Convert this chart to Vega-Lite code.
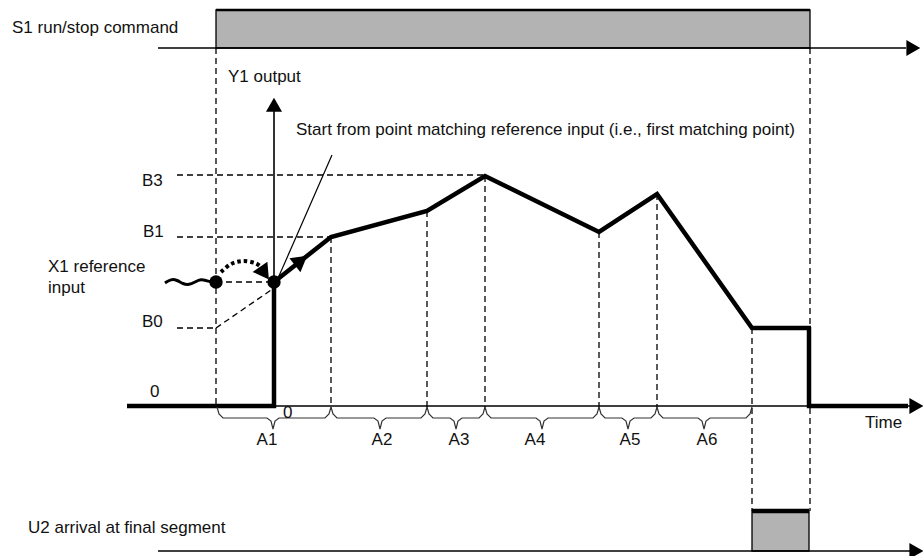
{
  "$schema": "https://vega.github.io/schema/vega-lite/v6.json",
  "width": 923,
  "height": 556,
  "autosize": {"type": "none"},
  "padding": 0,
  "background": "white",
  "config": {"view": {"stroke": null}},
  "encoding": {
    "x": {"field": "x", "type": "quantitative", "scale": {"domain": [0, 923], "nice": false, "zero": false}, "axis": null},
    "y": {"field": "y", "type": "quantitative", "scale": {"domain": [0, 556], "nice": false, "zero": false, "reverse": true}, "axis": null}
  },
  "layer": [
    {
      "data": {"values": [
        {"x": 216, "x2": 810, "y": 10, "y2": 48},
        {"x": 752, "x2": 809, "y": 511, "y2": 551}
      ]},
      "mark": {"type": "rect", "fill": "#b3b3b3", "stroke": "#000", "strokeWidth": 1.3},
      "encoding": {"x2": {"field": "x2"}, "y2": {"field": "y2"}}
    },
    {
      "data": {"values": [
        {"x": 216, "y": 48, "x2": 216, "y2": 407},
        {"x": 810, "y": 48, "x2": 810, "y2": 511},
        {"x": 331, "y": 237, "x2": 331, "y2": 407},
        {"x": 427, "y": 211, "x2": 427, "y2": 407},
        {"x": 485, "y": 176, "x2": 485, "y2": 407},
        {"x": 599, "y": 232, "x2": 599, "y2": 407},
        {"x": 657, "y": 194, "x2": 657, "y2": 407},
        {"x": 752, "y": 328, "x2": 752, "y2": 511},
        {"x": 177, "y": 175, "x2": 485, "y2": 175},
        {"x": 177, "y": 237, "x2": 331, "y2": 237},
        {"x": 177, "y": 328, "x2": 216, "y2": 328},
        {"x": 216, "y": 282, "x2": 274, "y2": 282},
        {"x": 216, "y": 328, "x2": 274, "y2": 288}
      ]},
      "mark": {"type": "rule", "color": "#000", "strokeWidth": 1.3, "strokeDash": [6, 4]},
      "encoding": {"x2": {"field": "x2"}, "y2": {"field": "y2"}}
    },
    {
      "data": {"values": [
        {"x": 158, "y": 48, "x2": 906, "y2": 48},
        {"x": 158, "y": 551, "x2": 910, "y2": 551},
        {"x": 274, "y": 406, "x2": 910, "y2": 406},
        {"x": 274, "y": 110, "x2": 274, "y2": 282}
      ]},
      "mark": {"type": "rule", "color": "#000", "strokeWidth": 1.6},
      "encoding": {"x2": {"field": "x2"}, "y2": {"field": "y2"}}
    },
    {
      "data": {"values": [
        {"x": 279, "y": 276, "x2": 332, "y2": 155}
      ]},
      "mark": {"type": "rule", "color": "#000", "strokeWidth": 1.2},
      "encoding": {"x2": {"field": "x2"}, "y2": {"field": "y2"}}
    },
    {
      "data": {"values": [
        {"x": 216, "y": 10, "x2": 810, "y2": 10}
      ]},
      "mark": {"type": "rule", "color": "#000", "strokeWidth": 2.5},
      "encoding": {"x2": {"field": "x2"}, "y2": {"field": "y2"}}
    },
    {
      "data": {"values": [
        {"x": 127, "y": 406, "x2": 276, "y2": 406},
        {"x": 274, "y": 408, "x2": 274, "y2": 283},
        {"x": 809, "y": 327, "x2": 809, "y2": 408},
        {"x": 807, "y": 406, "x2": 908, "y2": 406},
        {"x": 752, "y": 511, "x2": 809, "y2": 511}
      ]},
      "mark": {"type": "rule", "color": "#000", "strokeWidth": 4.5},
      "encoding": {"x2": {"field": "x2"}, "y2": {"field": "y2"}}
    },
    {
      "data": {"values": [
        {"x": 274, "y": 282, "o": 1},
        {"x": 331, "y": 237, "o": 2},
        {"x": 427, "y": 211, "o": 3},
        {"x": 485, "y": 176, "o": 4},
        {"x": 599, "y": 232, "o": 5},
        {"x": 657, "y": 194, "o": 6},
        {"x": 752, "y": 328, "o": 7},
        {"x": 811, "y": 328, "o": 8}
      ]},
      "mark": {"type": "line", "color": "#000", "strokeWidth": 4.5, "strokeJoin": "miter"},
      "encoding": {"order": {"field": "o", "type": "quantitative"}}
    },
    {
      "data": {"values": [
        {"x": 165, "y": 283, "o": 1},
        {"x": 171, "y": 279, "o": 2},
        {"x": 177, "y": 280, "o": 3},
        {"x": 183, "y": 284, "o": 4},
        {"x": 189, "y": 285, "o": 5},
        {"x": 195, "y": 282, "o": 6},
        {"x": 201, "y": 279, "o": 7},
        {"x": 207, "y": 281, "o": 8},
        {"x": 213, "y": 282, "o": 9}
      ]},
      "mark": {"type": "line", "color": "#000", "strokeWidth": 3, "interpolate": "basis"},
      "encoding": {"order": {"field": "o", "type": "quantitative"}}
    },
    {
      "data": {"values": [
        {"x": 221, "y": 272, "o": 1},
        {"x": 231, "y": 264, "o": 2},
        {"x": 243, "y": 261, "o": 3},
        {"x": 255, "y": 263, "o": 4},
        {"x": 261, "y": 267, "o": 5}
      ]},
      "mark": {"type": "line", "color": "#000", "strokeWidth": 4, "strokeDash": [3.5, 3], "interpolate": "cardinal"},
      "encoding": {"order": {"field": "o", "type": "quantitative"}}
    },
    {
      "data": {"values": [
        {"x": 217, "y": 407, "b": "A1", "o": 1}, {"x": 219, "y": 414, "b": "A1", "o": 2}, {"x": 223, "y": 418, "b": "A1", "o": 3}, {"x": 267, "y": 418, "b": "A1", "o": 4}, {"x": 271, "y": 421, "b": "A1", "o": 5}, {"x": 273, "y": 429, "b": "A1", "o": 6}, {"x": 275, "y": 421, "b": "A1", "o": 7}, {"x": 279, "y": 418, "b": "A1", "o": 8}, {"x": 325, "y": 418, "b": "A1", "o": 9}, {"x": 329, "y": 414, "b": "A1", "o": 10}, {"x": 331, "y": 407, "b": "A1", "o": 11},
        {"x": 331, "y": 407, "b": "A2", "o": 1}, {"x": 333, "y": 414, "b": "A2", "o": 2}, {"x": 337, "y": 418, "b": "A2", "o": 3}, {"x": 374, "y": 418, "b": "A2", "o": 4}, {"x": 378, "y": 421, "b": "A2", "o": 5}, {"x": 380, "y": 429, "b": "A2", "o": 6}, {"x": 382, "y": 421, "b": "A2", "o": 7}, {"x": 386, "y": 418, "b": "A2", "o": 8}, {"x": 421, "y": 418, "b": "A2", "o": 9}, {"x": 425, "y": 414, "b": "A2", "o": 10}, {"x": 427, "y": 407, "b": "A2", "o": 11},
        {"x": 427, "y": 407, "b": "A3", "o": 1}, {"x": 429, "y": 414, "b": "A3", "o": 2}, {"x": 433, "y": 418, "b": "A3", "o": 3}, {"x": 450, "y": 418, "b": "A3", "o": 4}, {"x": 454, "y": 421, "b": "A3", "o": 5}, {"x": 456, "y": 429, "b": "A3", "o": 6}, {"x": 458, "y": 421, "b": "A3", "o": 7}, {"x": 462, "y": 418, "b": "A3", "o": 8}, {"x": 479, "y": 418, "b": "A3", "o": 9}, {"x": 483, "y": 414, "b": "A3", "o": 10}, {"x": 485, "y": 407, "b": "A3", "o": 11},
        {"x": 485, "y": 407, "b": "A4", "o": 1}, {"x": 487, "y": 414, "b": "A4", "o": 2}, {"x": 491, "y": 418, "b": "A4", "o": 3}, {"x": 536, "y": 418, "b": "A4", "o": 4}, {"x": 540, "y": 421, "b": "A4", "o": 5}, {"x": 542, "y": 429, "b": "A4", "o": 6}, {"x": 544, "y": 421, "b": "A4", "o": 7}, {"x": 548, "y": 418, "b": "A4", "o": 8}, {"x": 593, "y": 418, "b": "A4", "o": 9}, {"x": 597, "y": 414, "b": "A4", "o": 10}, {"x": 599, "y": 407, "b": "A4", "o": 11},
        {"x": 599, "y": 407, "b": "A5", "o": 1}, {"x": 601, "y": 414, "b": "A5", "o": 2}, {"x": 605, "y": 418, "b": "A5", "o": 3}, {"x": 622, "y": 418, "b": "A5", "o": 4}, {"x": 626, "y": 421, "b": "A5", "o": 5}, {"x": 628, "y": 429, "b": "A5", "o": 6}, {"x": 630, "y": 421, "b": "A5", "o": 7}, {"x": 634, "y": 418, "b": "A5", "o": 8}, {"x": 651, "y": 418, "b": "A5", "o": 9}, {"x": 655, "y": 414, "b": "A5", "o": 10}, {"x": 657, "y": 407, "b": "A5", "o": 11},
        {"x": 657, "y": 407, "b": "A6", "o": 1}, {"x": 659, "y": 414, "b": "A6", "o": 2}, {"x": 663, "y": 418, "b": "A6", "o": 3}, {"x": 698, "y": 418, "b": "A6", "o": 4}, {"x": 702, "y": 421, "b": "A6", "o": 5}, {"x": 704, "y": 429, "b": "A6", "o": 6}, {"x": 706, "y": 421, "b": "A6", "o": 7}, {"x": 710, "y": 418, "b": "A6", "o": 8}, {"x": 746, "y": 418, "b": "A6", "o": 9}, {"x": 750, "y": 414, "b": "A6", "o": 10}, {"x": 752, "y": 407, "b": "A6", "o": 11}
      ]},
      "mark": {"type": "line", "color": "#333", "strokeWidth": 1.2},
      "encoding": {"detail": {"field": "b", "type": "nominal"}, "order": {"field": "o", "type": "quantitative"}}
    },
    {
      "data": {"values": [
        {"x": 911, "y": 48, "a": 90},
        {"x": 914, "y": 551, "a": 90},
        {"x": 914, "y": 406, "a": 90},
        {"x": 274, "y": 107, "a": 0}
      ]},
      "mark": {"type": "point", "shape": "triangle", "filled": true, "color": "#000", "opacity": 1, "size": 260, "strokeWidth": 0},
      "encoding": {"angle": {"field": "a", "type": "quantitative", "scale": null}}
    },
    {
      "data": {"values": [
        {"x": 299, "y": 262, "a": 52},
        {"x": 263, "y": 271, "a": 145}
      ]},
      "mark": {"type": "point", "shape": "triangle", "filled": true, "color": "#000", "opacity": 1, "size": 320, "strokeWidth": 0},
      "encoding": {"angle": {"field": "a", "type": "quantitative", "scale": null}}
    },
    {
      "data": {"values": [
        {"x": 216, "y": 282},
        {"x": 274, "y": 282}
      ]},
      "mark": {"type": "point", "shape": "circle", "filled": true, "color": "#000", "opacity": 1, "size": 180}
    },
    {
      "data": {"values": [
        {"x": 12, "y": 33, "t": "S1 run/stop command"},
        {"x": 228, "y": 82, "t": "Y1 output"},
        {"x": 296, "y": 135, "t": "Start from point matching reference input (i.e., first matching point)"},
        {"x": 142, "y": 186, "t": "B3"},
        {"x": 143, "y": 237, "t": "B1"},
        {"x": 48, "y": 272, "t": "X1 reference"},
        {"x": 48, "y": 293, "t": "input"},
        {"x": 142, "y": 327, "t": "B0"},
        {"x": 150, "y": 397, "t": "0"},
        {"x": 283, "y": 418, "t": "0"},
        {"x": 865, "y": 428, "t": "Time"},
        {"x": 28, "y": 533, "t": "U2 arrival at final segment"}
      ]},
      "mark": {"type": "text", "align": "left", "baseline": "alphabetic", "font": "Liberation Sans", "fontSize": 17, "color": "#111"},
      "encoding": {"text": {"field": "t", "type": "nominal"}}
    },
    {
      "data": {"values": [
        {"x": 267, "y": 445, "t": "A1"},
        {"x": 382, "y": 445, "t": "A2"},
        {"x": 459, "y": 445, "t": "A3"},
        {"x": 535, "y": 445, "t": "A4"},
        {"x": 630, "y": 445, "t": "A5"},
        {"x": 707, "y": 445, "t": "A6"}
      ]},
      "mark": {"type": "text", "align": "center", "baseline": "alphabetic", "font": "Liberation Sans", "fontSize": 17, "color": "#111"},
      "encoding": {"text": {"field": "t", "type": "nominal"}}
    }
  ]
}
